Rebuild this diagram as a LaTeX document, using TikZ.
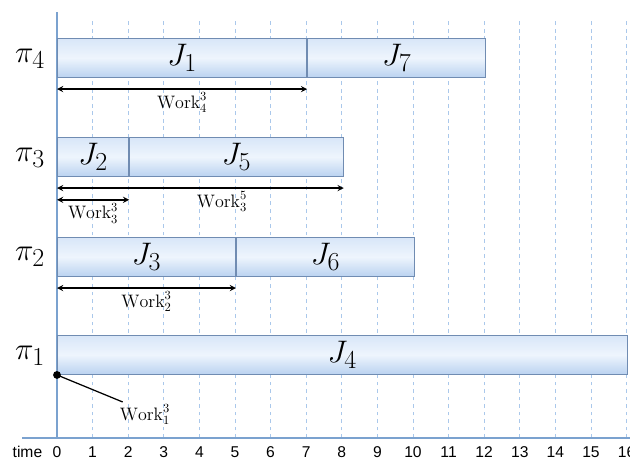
\documentclass[tikz,border=0pt]{standalone}
\usepackage{fontspec}
\newfontfamily\axisfont{Liberation Sans}
\usetikzlibrary{positioning,shadows}
\definecolor{axisblue}{RGB}{123,162,207}
\definecolor{gridblue}{RGB}{170,200,235}
\definecolor{bartop}{RGB}{216,230,248}
\definecolor{barmid}{RGB}{238,245,253}
\definecolor{barbot}{RGB}{186,210,240}
\definecolor{baredge}{RGB}{112,140,178}

\begin{document}
\begin{tikzpicture}[
    job/.style={draw=baredge, line width=0.8pt, top color=bartop, bottom color=barbot, middle color=barmid,
                drop shadow={shadow xshift=0.6pt, shadow yshift=-0.6pt, opacity=0.45},
                minimum height=1.1cm, inner sep=0pt, anchor=south west, font=\Huge},
    warr/.style={<->, >=stealth, thick, line width=1.2pt},
    wlab/.style={font=\Large, inner sep=2pt},
    tlab/.style={font=\axisfont\fontsize{12.5}{14}\selectfont}]
            \useasboundingbox (-1.601,-0.674) rectangle (16.096,12.303);

            % grid
            \foreach \t in {1,...,16}
                \draw[gridblue, dashed, line width=0.6pt] (\t,0) -- (\t,11.8);

            % axes
            \draw[axisblue, line width=2pt] (0,0) -- (0,11.97);
            \draw[axisblue, line width=2pt] (-0.98,0) -- (16.1,0);
            \node[tlab] at (-0.83,-0.39) {time};
            \foreach \t in {0,...,16}
                \node[tlab] at (\t,-0.39) {\t};

            % processors
            \node[font=\Huge] (p4) at (-0.76,10.66) {\(\pi_4\)};
            \node[font=\Huge] (p3) at (-0.76,7.88) {\(\pi_3\)};
            \node[font=\Huge] (p2) at (-0.76,5.08) {\(\pi_2\)};
            \node[font=\Huge] (p1) at (-0.76,2.30) {\(\pi_1\)};

            % jobs
            \node[job, minimum width=7cm] (J1) at (0,10.11) {\(J_1\)};
            \node[job, minimum width=5cm] (J7) at (J1.south east) {\(J_7\)};
            \node[job, minimum width=2cm] (J2) at (0,7.33) {\(J_2\)};
            \node[job, minimum width=6cm] (J5) at (J2.south east) {\(J_5\)};
            \node[job, minimum width=5cm] (J3) at (0,4.52) {\(J_3\)};
            \node[job, minimum width=5cm] (J6) at (J3.south east) {\(J_6\)};
            \node[job, minimum width=16cm] (J4) at (0,1.77) {\(J_4\)};

            % work
            \draw[warr] ([yshift=-3.1mm]J1.south west) -- ([yshift=-3.1mm]J1.south east)
                node[wlab, midway, below] (w4) {\(\mathrm{Work}_4^3\)};
            \draw[warr] ([yshift=-3.1mm]J2.south west) -- ([yshift=-3.1mm]J5.south east)
                node[wlab, pos=0.575, below] (w35) {\(\mathrm{Work}_3^5\)};
            \draw[warr] ([yshift=-6.4mm]J2.south west) -- ([yshift=-6.4mm]J2.south east)
                node[wlab, midway, below] (w33) {\(\mathrm{Work}_3^3\)};
            \draw[warr] ([yshift=-3.1mm]J3.south west) -- ([yshift=-3.1mm]J3.south east)
                node[wlab, midway, below] (w2) {\(\mathrm{Work}_2^3\)};
            \node[wlab] (w1) at (2.47,0.65) {\(\mathrm{Work}_1^3\)};
            \fill (J4.south west) circle (0.11);
            \draw[line width=1pt] (J4.south west) -- (w1.150);
        \end{tikzpicture}
\end{document}
